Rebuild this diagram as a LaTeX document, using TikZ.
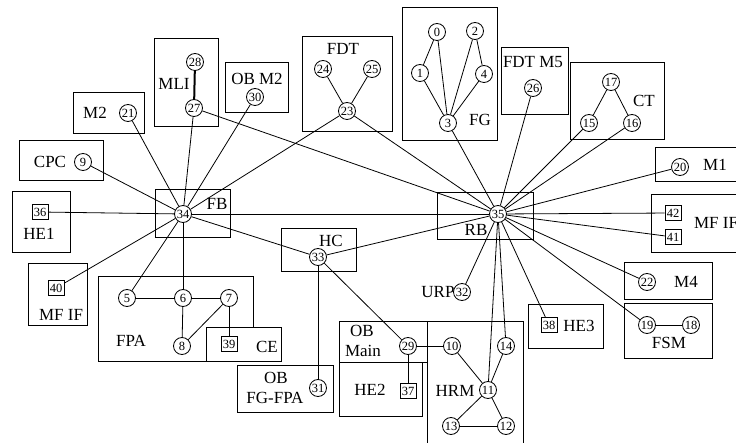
\documentclass[tikz,border=0pt]{standalone}
\usepackage{fontspec}
\setmainfont{Liberation Serif}

\begin{document}
\begin{tikzpicture}[x=1pt, y=-1pt, line width=0.8pt,
  every node/.style={inner sep=0pt, font=\fontsize{17}{17}\selectfont},
  vtx/.style={circle, draw, fill=white, minimum size=17pt, font=\fontsize{12.5}{12.5}\selectfont},
  port/.style={rectangle, draw, fill=white, minimum width=16pt, minimum height=15pt, font=\fontsize{12.5}{12.5}\selectfont},
  blk/.style={line width=0.95pt}]
  \useasboundingbox (0,0) rectangle (736,443);
  \clip (0,0) rectangle (736,443);

  \draw[blk] (154,38) rectangle (218,126); \node (lMLI) at (174,84) {MLI};
  \draw[blk] (73,92) rectangle (144,133); \node (lM2) at (95,113) {M2};
  \draw[blk] (19,140) rectangle (103,180); \node (lCPC) at (50,162) {CPC};
  \draw[blk] (12,191) rectangle (70,252); \node (lHE1) at (39,234) {HE1};
  \draw[blk] (28,263) rectangle (87,325); \node (lMFIFa) at (61,315) {MF IF};
  \draw[blk] (155,189) rectangle (230,237); \node (lFB) at (217,204) {FB};
  \draw[blk] (225,62) rectangle (288,112); \node (lOBM2) at (257,79) {OB M2};
  \draw[blk] (302,36) rectangle (392,131); \node (lFDT) at (343,49) {FDT};
  \draw[blk] (402,7) rectangle (497,140); \node (lFG) at (480,120) {FG};
  \draw[blk] (501,47) rectangle (568,114); \node (lFDTM5) at (533,62) {FDT M5};
  \draw[blk] (570,62) rectangle (664,139); \node (lCT) at (644,101) {CT};
  \draw[blk] (655,147) rectangle (745,181); \node (lM1) at (715,165) {M1};
  \draw[blk] (651,194) rectangle (745,252); \node (lMFIFb) at (716,223) {MF IF};
  \draw[blk] (437,192) rectangle (533,239); \node (lRB) at (476,230) {RB};
  \draw[blk] (281,228) rectangle (356,271); \node (lHC) at (331,241) {HC};
  \node (lURP) at (438,292) {URP};

  \draw[blk] (98,276) rectangle (253,361); \node (lFPA) at (131,341) {FPA};
  \draw[blk, fill=white] (206,327) rectangle (281,361); \node (lCE) at (267,347) {CE};
  \draw[blk] (237,365) rectangle (333,412);
  \node (lOBa) at (276,378) {OB}; \node (lFGFPA) at (275,398) {FG-FPA};

  \draw[blk] (339,321) rectangle (427,362);
  \node (lOBb) at (362,331) {OB}; \node (lMain) at (363,351) {Main};
  \draw[blk] (339,362) rectangle (422,416); \node (lHE2) at (370,390) {HE2};
  \draw[blk] (427,321) rectangle (523,450); \node (lHRM) at (455,391) {HRM};
  \draw[blk] (528,304) rectangle (603,348); \node (lHE3) at (579,326) {HE3};
  \draw[blk] (624,262) rectangle (712,299); \node (lM4) at (686,282) {M4};
  \draw[blk] (624,303) rectangle (712,358); \node (lFSM) at (669,343) {FSM};

  \node[vtx] (n0) at (437,32) {0};   \node[vtx] (n1) at (420,73) {1};
  \node[vtx] (n2) at (475,31) {2};   \node[vtx] (n3) at (448,123) {3};
  \node[vtx] (n4) at (484,74) {4};
  \node[vtx] (n5) at (127,298) {5};  \node[vtx] (n6) at (183,298) {6};
  \node[vtx] (n7) at (229,298) {7};  \node[vtx] (n8) at (182,346) {8};
  \node[vtx] (n9) at (83,162) {9};
  \node[vtx] (n10) at (452,346) {10}; \node[vtx] (n11) at (488,390) {11};
  \node[vtx] (n12) at (506,426) {12}; \node[vtx] (n13) at (451,426) {13};
  \node[vtx] (n14) at (506,346) {14};
  \node[vtx] (n15) at (589,123) {15}; \node[vtx] (n16) at (632,123) {16};
  \node[vtx] (n17) at (611,82) {17};
  \node[vtx] (n18) at (691,325) {18}; \node[vtx] (n19) at (647,325) {19};
  \node[vtx] (n20) at (680,167) {20}; \node[vtx] (n21) at (128,113) {21};
  \node[vtx] (n22) at (647,282) {22};
  \node[vtx] (n23) at (347,111) {23}; \node[vtx] (n24) at (323,69) {24};
  \node[vtx] (n25) at (372,69) {25};  \node[vtx] (n26) at (533,88) {26};
  \node[vtx] (n27) at (194,108) {27}; \node[vtx] (n28) at (195,62) {28};
  \node[vtx] (n29) at (408,346) {29}; \node[vtx] (n30) at (255,97) {30};
  \node[vtx] (n31) at (318,388) {31}; \node[vtx] (n32) at (462,292) {32};
  \node[vtx] (n33) at (318,257) {33}; \node[vtx] (n34) at (183,214) {34};
  \node[vtx] (n35) at (498,214) {35};
  \node[port] (n36) at (40,212) {36};  \node[port] (n37) at (408,391) {37};
  \node[port] (n38) at (549,325) {38}; \node[port] (n39) at (229,344) {39};
  \node[port] (n40) at (56,288) {40};  \node[port] (n41) at (673,237) {41};
  \node[port] (n42) at (673,213) {42};

  \draw (n0) -- (n1); \draw (n0) -- (n3); \draw (n1) -- (n3);
  \draw (n2) -- (n4); \draw (n2) -- (n3); \draw (n4) -- (n3);
  \draw (n24) -- (n23); \draw (n25) -- (n23);
  \draw (n17) -- (n15); \draw (n17) -- (n16);
  \draw[line width=2pt] (n27) -- (n28);
  \draw (n5) -- (n6); \draw (n6) -- (n7); \draw (n6) -- (n8);
  \draw (n7) -- (n8); \draw (n7) -- (n39);
  \draw (n19) -- (n18);
  \draw (n29) -- (n10); \draw (n29) -- (n37);
  \draw (n10) -- (n11); \draw (n14) -- (n11);
  \draw (n11) -- (n13); \draw (n11) -- (n12); \draw (n13) -- (n12);

  \draw (n34) -- (n9); \draw (n34) -- (n21); \draw (n34) -- (n27);
  \draw (n34) -- (n30); \draw (n34) -- (n23); \draw (n34) -- (n36);
  \draw (n34) -- (n40); \draw (n34) -- (n5); \draw (n34) -- (n6);
  \draw (n34) -- (n35); \draw (n34) -- (n33);

  \draw (n35) -- (n27); \draw (n35) -- (n23); \draw (n35) -- (n3);
  \draw (n35) -- (n26); \draw (n35) -- (n15); \draw (n35) -- (n16);
  \draw (n35) -- (n20); \draw (n35) -- (n42); \draw (n35) -- (n41);
  \draw (n35) -- (n22); \draw (n35) -- (n19); \draw (n35) -- (n38);
  \draw (n35) -- (n14); \draw (n35) -- (n11); \draw (n35) -- (n32);
  \draw (n35) -- (n33);

  \draw (n33) -- (n31); \draw (n33) -- (n29);
\end{tikzpicture}
\end{document}
